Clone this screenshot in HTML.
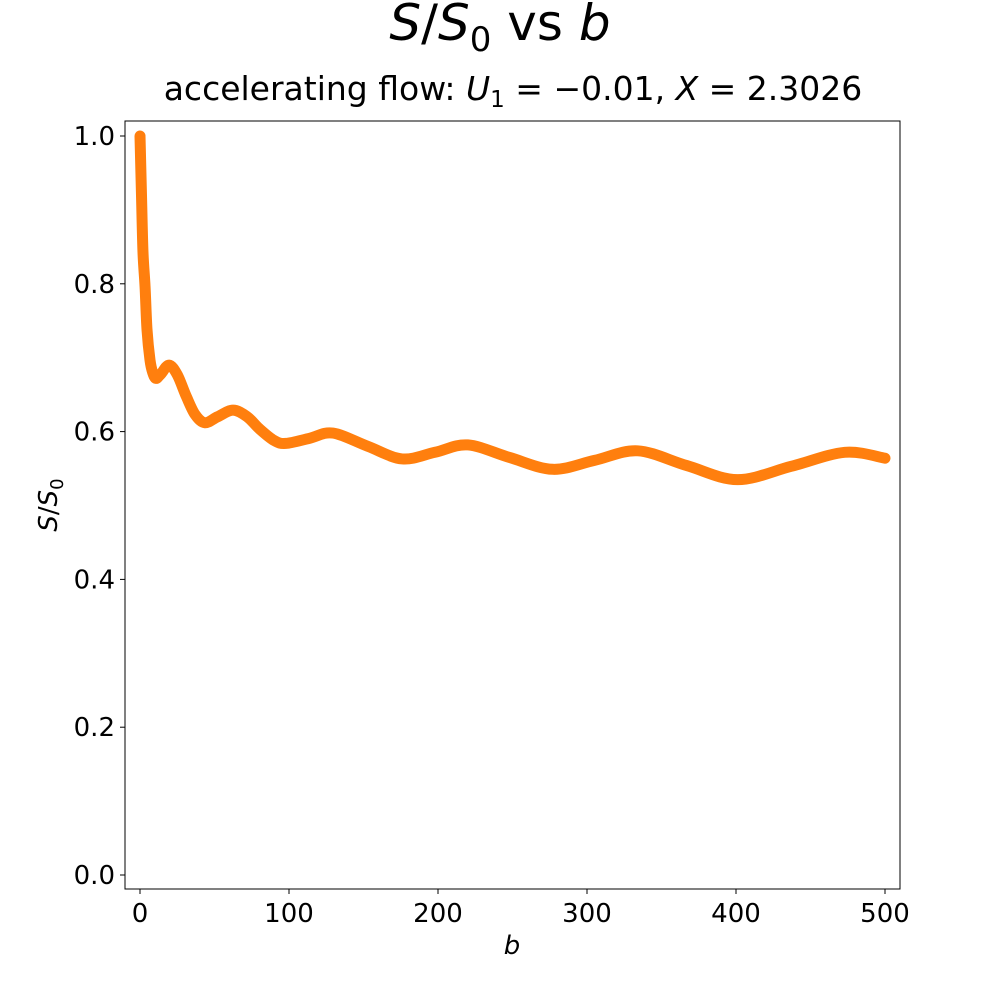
<!DOCTYPE html>
<html><head><meta charset="utf-8"><style>
body{margin:0;background:#fff;}
svg text{font-family:"DejaVu Sans","Liberation Sans",sans-serif;fill:#000;}
</style></head><body>
<svg id="chart" width="1000" height="1000" xmlns="http://www.w3.org/2000/svg">
<text x="500" y="40" font-size="50" text-anchor="middle"><tspan font-style="italic">S</tspan>/<tspan font-style="italic">S</tspan><tspan font-size="34" dy="11">0</tspan><tspan dy="-11"> vs </tspan><tspan font-style="italic">b</tspan></text>
<text x="513" y="100" font-size="33" text-anchor="middle">accelerating flow: <tspan font-style="italic">U</tspan><tspan font-size="23" dy="7">1</tspan><tspan dy="-7"> = −0.01, </tspan><tspan font-style="italic">X</tspan> = 2.3026</text>
<rect x="125" y="121" width="775" height="768" fill="none" stroke="#000" stroke-width="1"/>
<g id="xt"></g><g id="yt"></g>
<path id="curve" fill="none" stroke="#ff7f0e" stroke-width="11" stroke-linecap="round" stroke-linejoin="round"/>
<text x="512" y="954" font-size="26" font-style="italic" text-anchor="middle">b</text>
<text transform="translate(57,505) rotate(-90)" font-size="26" text-anchor="middle"><tspan font-style="italic">S</tspan>/<tspan font-style="italic">S</tspan><tspan font-size="18" dy="6">0</tspan></text>
</svg>
<script>
const xTicks=[0,100,200,300,400,500];
const yTicks=[0.0,0.2,0.4,0.6,0.8,1.0];
const bVals=[0,1,2,3.4,4.7,6.7,8.5,10.7,14,19.5,25,31,37,43.6,52,62.4,72,80,90,98,114,129.5,153,176,198,220,248,277,305,334,367,401,437,473,500];
const sVals=[1.0,0.92,0.843,0.796,0.738,0.697,0.68,0.672,0.678,0.69,0.677,0.648,0.623,0.612,0.62,0.629,0.62,0.604,0.588,0.584,0.591,0.598,0.58,0.563,0.572,0.582,0.565,0.549,0.561,0.574,0.554,0.535,0.553,0.572,0.564];
const X=v=>140+v*1.49, Y=v=>875-v*739;
const NS="http://www.w3.org/2000/svg";
const xt=document.getElementById('xt'), yt=document.getElementById('yt');
xTicks.forEach(t=>{
 const l=document.createElementNS(NS,'line');
 
 
 l.setAttribute('x1',X(t));l.setAttribute('x2',X(t));l.setAttribute('y1',889);l.setAttribute('y2',894);l.setAttribute('stroke','#000');
 xt.appendChild(l);
 const tx=document.createElementNS(NS,'text');
 
 
 tx.setAttribute('x',X(t));tx.setAttribute('y',922);tx.setAttribute('font-size','26');tx.setAttribute('text-anchor','middle');
 tx.textContent=t; xt.appendChild(tx);
});
yTicks.forEach(t=>{
 const l=document.createElementNS(NS,'line');
 
 
 l.setAttribute('x1',120);l.setAttribute('x2',125);l.setAttribute('y1',Y(t));l.setAttribute('y2',Y(t));l.setAttribute('stroke','#000');
 yt.appendChild(l);
 const tx=document.createElementNS(NS,'text');
 
 
 tx.setAttribute('x',115);tx.setAttribute('y',Y(t)+9);tx.setAttribute('font-size','26');tx.setAttribute('text-anchor','end');
 tx.textContent=t.toFixed(1); yt.appendChild(tx);
});
const P=bVals.map((b,i)=>[X(b),Y(sVals[i])]);
let d='M'+P[0][0]+','+P[0][1];
for(let i=0;i<P.length-1;i++){
 const p0=P[Math.max(i-1,0)],p1=P[i],p2=P[i+1],p3=P[Math.min(i+2,P.length-1)];
 const c1=[p1[0]+(p2[0]-p0[0])/6,p1[1]+(p2[1]-p0[1])/6];
 const c2=[p2[0]-(p3[0]-p1[0])/6,p2[1]-(p3[1]-p1[1])/6];
 d+=' C'+c1+' '+c2+' '+p2;
}
document.getElementById('curve').setAttribute('d',d);
</script>
</body></html>
